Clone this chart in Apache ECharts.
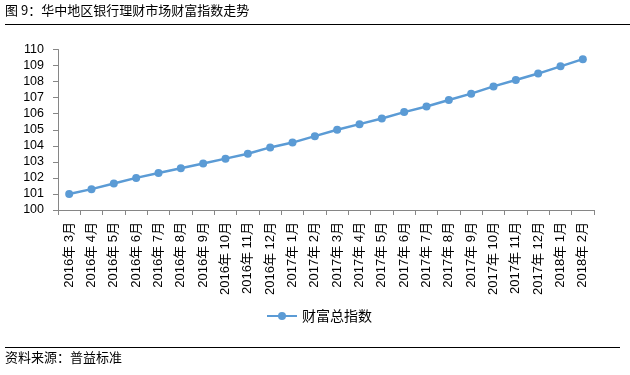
<!DOCTYPE html>
<html><head><meta charset="utf-8">
<script src="https://cdn.jsdelivr.net/npm/echarts@6/dist/echarts.min.js"></script>
<style>html,body{margin:0;padding:0;background:#fff}#c{width:630px;height:375px}</style>
</head><body><div id="c"></div>
<script>
const categories = ['2016年 3月','2016年 4月','2016年 5月','2016年 6月','2016年 7月','2016年 8月','2016年 9月','2016年 10月','2016年 11月','2016年 12月','2017年 1月','2017年 2月','2017年 3月','2017年 4月','2017年 5月','2017年 6月','2017年 7月','2017年 8月','2017年 9月','2017年 10月','2017年 11月','2017年 12月','2018年 1月','2018年 2月'];
const wealthIndex = [101.0,101.3,101.65,102.0,102.3,102.6,102.9,103.2,103.5,103.9,104.2,104.6,105.0,105.35,105.7,106.1,106.45,106.85,107.25,107.7,108.1,108.5,108.95,109.4];
const seriesName = '财富总指数';
const titleText = '图 9：华中地区银行理财市场财富指数走势';
const sourceText = '资料来源：普益标准';

const chart = echarts.init(document.getElementById('c'), null, {renderer:'canvas'});
const font = '"Noto Sans CJK SC", "Liberation Sans", sans-serif';
const mixFont = '"Liberation Sans", "Noto Sans CJK SC", sans-serif';
chart.setOption({
  animation:false,
  textStyle:{fontFamily:font},
  graphic:[
    {type:'text', left:5, top:4, style:{text:titleText, font:'13px '+font, fill:'#000'}},
    {type:'line', shape:{x1:5,y1:24.5,x2:630,y2:24.5}, style:{stroke:'#000', lineWidth:1.2}},
    {type:'line', shape:{x1:5,y1:347.5,x2:620,y2:347.5}, style:{stroke:'#000', lineWidth:1.2}},
    {type:'text', left:5, top:351, style:{text:sourceText, font:'13px '+font, fill:'#000'}}
  ],
  legend:{
    data:[seriesName], left:261, top:304, itemWidth:30, itemHeight:10, itemGap:4,
    textStyle:{fontSize:14, color:'#000', fontFamily:font}
  },
  grid:{left:58, top:49.5, right:36, bottom:165, containLabel:false},
  xAxis:{
    type:'category', data:categories, boundaryGap:true,
    axisLine:{lineStyle:{color:'#868686'}},
    axisTick:{show:true, alignWithLabel:false, length:5, lineStyle:{color:'#868686'}},
    axisLabel:{rotate:90, interval:0, fontSize:13, color:'#000', margin:12, fontFamily:mixFont}
  },
  yAxis:{
    type:'value', min:100, max:110, interval:1,
    axisLine:{show:true, lineStyle:{color:'#868686'}},
    axisTick:{show:true, length:5, lineStyle:{color:'#868686'}},
    splitLine:{show:false},
    axisLabel:{fontSize:12.5, color:'#000', margin:14, fontFamily:'"Liberation Sans", sans-serif'}
  },
  series:[{
    name:seriesName, type:'line', data:wealthIndex,
    symbol:'circle', symbolSize:8,
    lineStyle:{color:'#5B9BD5', width:2.5},
    itemStyle:{color:'#5B9BD5'}
  }]
});
</script></body></html>
